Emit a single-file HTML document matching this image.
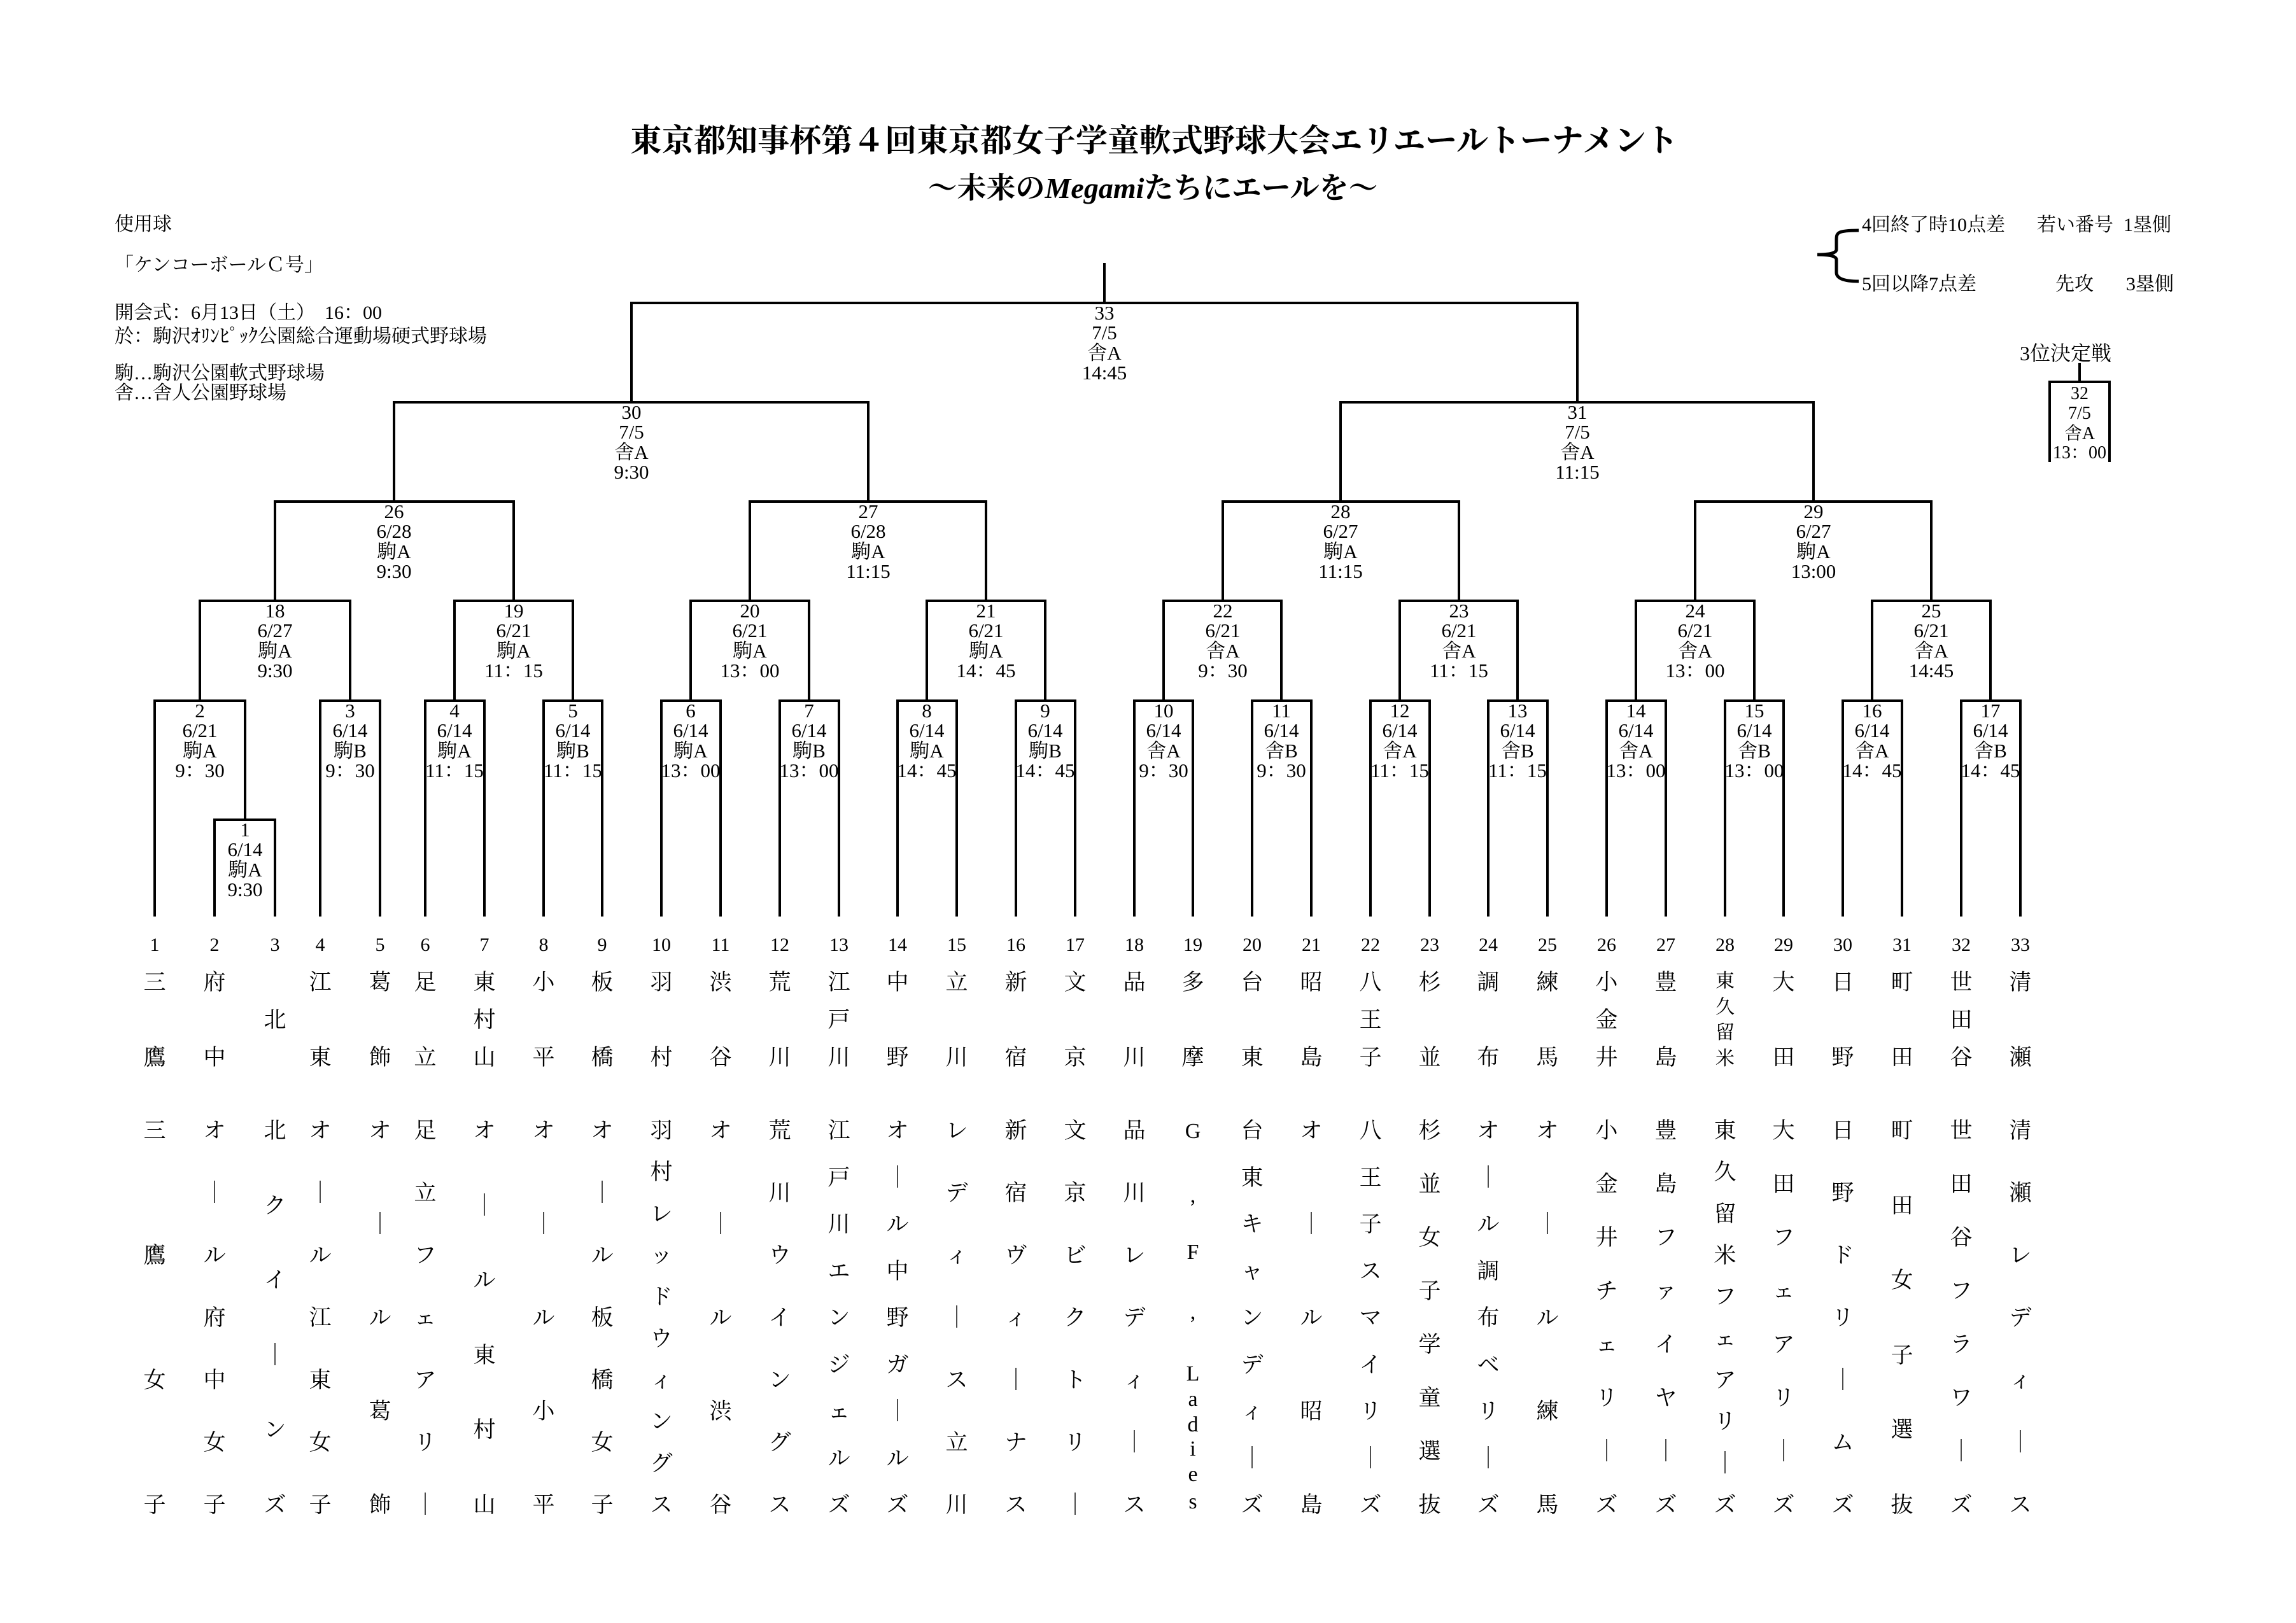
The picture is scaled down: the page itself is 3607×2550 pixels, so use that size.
<!DOCTYPE html>
<html><head><meta charset="utf-8"><style>
body{margin:0;background:#fff}
#w{position:relative;width:3607px;height:2550px;overflow:hidden;background:#fff;font-family:"Liberation Serif","Noto Serif CJK SC",serif;color:#000}
svg{position:absolute;left:0;top:0}
.c{position:absolute;width:60px;display:flex;flex-direction:column;justify-content:space-between;align-items:center;font-size:35px;line-height:36px}
.t{top:1526px;height:154px}
.n{top:1759px;height:624px}
.c span{display:block;height:36px}
.one{justify-content:center}
</style></head><body><div id="w">
<svg width="3607" height="2550" xmlns="http://www.w3.org/2000/svg">
<g fill="none" stroke="#000" stroke-width="4">
<path d="M1735,413V476"/>
<path d="M992,632V476H2478V632"/>
<path d="M619,788V632H1364V788"/><path d="M2106,788V632H2849V788"/>
<path d="M432,944V788H807V944"/><path d="M1178,944V788H1549V944"/><path d="M1921,944V788H2292V944"/><path d="M2663,944V788H3034V944"/>
<path d="M314,1101V944H550V1101"/><path d="M714,1101V944H900V1101"/><path d="M1085,1101V944H1271V1101"/><path d="M1456,1101V944H1642V1101"/>
<path d="M1828,1101V944H2013V1101"/><path d="M2199,1101V944H2384V1101"/><path d="M2570,1101V944H2756V1101"/><path d="M2941,1101V944H3127V1101"/>
<path d="M243,1440V1101H385V1288"/><path d="M337,1440V1288H432V1440"/>
<path d="M503,1440V1101H597V1440"/><path d="M668,1440V1101H761V1440"/><path d="M854,1440V1101H946V1440"/><path d="M1039,1440V1101H1132V1440"/>
<path d="M1225,1440V1101H1318V1440"/><path d="M1410,1440V1101H1503V1440"/><path d="M1596,1440V1101H1689V1440"/><path d="M1782,1440V1101H1874V1440"/>
<path d="M1967,1440V1101H2060V1440"/><path d="M2153,1440V1101H2246V1440"/><path d="M2338,1440V1101H2431V1440"/><path d="M2524,1440V1101H2617V1440"/>
<path d="M2710,1440V1101H2802V1440"/><path d="M2895,1440V1101H2988V1440"/><path d="M3081,1440V1101H3174V1440"/>
<path d="M3267,570V600"/><path d="M3220,726V600H3314V726"/>
<path stroke-width="5" d="M2920,362C2885,362 2885,366 2885,378V392Q2885,400 2855,400Q2885,400 2885,408V428Q2885,442 2920,442"/>
</g>
<g font-family="Liberation Serif, Noto Serif CJK SC, serif" font-size="31" text-anchor="middle">
<text x="1735" y="502">33</text><text x="1735" y="533">7/5</text><text x="1735" y="565">舎A</text><text x="1735" y="596">14:45</text>
<text x="992" y="658">30</text><text x="992" y="689">7/5</text><text x="992" y="721">舎A</text><text x="992" y="752">9:30</text>
<text x="2478" y="658">31</text><text x="2478" y="689">7/5</text><text x="2478" y="721">舎A</text><text x="2478" y="752">11:15</text>
<text x="619" y="814">26</text><text x="619" y="845">6/28</text><text x="619" y="877">駒A</text><text x="619" y="908">9:30</text>
<text x="1364" y="814">27</text><text x="1364" y="845">6/28</text><text x="1364" y="877">駒A</text><text x="1364" y="908">11:15</text>
<text x="2106" y="814">28</text><text x="2106" y="845">6/27</text><text x="2106" y="877">駒A</text><text x="2106" y="908">11:15</text>
<text x="2849" y="814">29</text><text x="2849" y="845">6/27</text><text x="2849" y="877">駒A</text><text x="2849" y="908">13:00</text>
<text x="432" y="970">18</text><text x="432" y="1001">6/27</text><text x="432" y="1033">駒A</text><text x="432" y="1064">9:30</text>
<text x="807" y="970">19</text><text x="807" y="1001">6/21</text><text x="807" y="1033">駒A</text><text x="807" y="1064">11：15</text>
<text x="1178" y="970">20</text><text x="1178" y="1001">6/21</text><text x="1178" y="1033">駒A</text><text x="1178" y="1064">13：00</text>
<text x="1549" y="970">21</text><text x="1549" y="1001">6/21</text><text x="1549" y="1033">駒A</text><text x="1549" y="1064">14：45</text>
<text x="1921" y="970">22</text><text x="1921" y="1001">6/21</text><text x="1921" y="1033">舎A</text><text x="1921" y="1064">9：30</text>
<text x="2292" y="970">23</text><text x="2292" y="1001">6/21</text><text x="2292" y="1033">舎A</text><text x="2292" y="1064">11：15</text>
<text x="2663" y="970">24</text><text x="2663" y="1001">6/21</text><text x="2663" y="1033">舎A</text><text x="2663" y="1064">13：00</text>
<text x="3034" y="970">25</text><text x="3034" y="1001">6/21</text><text x="3034" y="1033">舎A</text><text x="3034" y="1064">14:45</text>
<text x="314" y="1127">2</text><text x="314" y="1158">6/21</text><text x="314" y="1190">駒A</text><text x="314" y="1221">9：30</text>
<text x="385" y="1314">1</text><text x="385" y="1345">6/14</text><text x="385" y="1377">駒A</text><text x="385" y="1408">9:30</text>
<text x="550" y="1127">3</text><text x="550" y="1158">6/14</text><text x="550" y="1190">駒B</text><text x="550" y="1221">9：30</text>
<text x="714" y="1127">4</text><text x="714" y="1158">6/14</text><text x="714" y="1190">駒A</text><text x="714" y="1221">11：15</text>
<text x="900" y="1127">5</text><text x="900" y="1158">6/14</text><text x="900" y="1190">駒B</text><text x="900" y="1221">11：15</text>
<text x="1085" y="1127">6</text><text x="1085" y="1158">6/14</text><text x="1085" y="1190">駒A</text><text x="1085" y="1221">13：00</text>
<text x="1271" y="1127">7</text><text x="1271" y="1158">6/14</text><text x="1271" y="1190">駒B</text><text x="1271" y="1221">13：00</text>
<text x="1456" y="1127">8</text><text x="1456" y="1158">6/14</text><text x="1456" y="1190">駒A</text><text x="1456" y="1221">14：45</text>
<text x="1642" y="1127">9</text><text x="1642" y="1158">6/14</text><text x="1642" y="1190">駒B</text><text x="1642" y="1221">14：45</text>
<text x="1828" y="1127">10</text><text x="1828" y="1158">6/14</text><text x="1828" y="1190">舎A</text><text x="1828" y="1221">9：30</text>
<text x="2013" y="1127">11</text><text x="2013" y="1158">6/14</text><text x="2013" y="1190">舎B</text><text x="2013" y="1221">9：30</text>
<text x="2199" y="1127">12</text><text x="2199" y="1158">6/14</text><text x="2199" y="1190">舎A</text><text x="2199" y="1221">11：15</text>
<text x="2384" y="1127">13</text><text x="2384" y="1158">6/14</text><text x="2384" y="1190">舎B</text><text x="2384" y="1221">11：15</text>
<text x="2570" y="1127">14</text><text x="2570" y="1158">6/14</text><text x="2570" y="1190">舎A</text><text x="2570" y="1221">13：00</text>
<text x="2756" y="1127">15</text><text x="2756" y="1158">6/14</text><text x="2756" y="1190">舎B</text><text x="2756" y="1221">13：00</text>
<text x="2941" y="1127">16</text><text x="2941" y="1158">6/14</text><text x="2941" y="1190">舎A</text><text x="2941" y="1221">14：45</text>
<text x="3127" y="1127">17</text><text x="3127" y="1158">6/14</text><text x="3127" y="1190">舎B</text><text x="3127" y="1221">14：45</text>
<text x="3267" y="627" font-size="28">32</text><text x="3267" y="658" font-size="28">7/5</text><text x="3267" y="690" font-size="28">舎A</text><text x="3267" y="720" font-size="28">13：00</text>
<text x="3245" y="566" font-size="32">3位決定戦</text>
<g font-size="30">
<text x="243" y="1494">1</text><text x="337" y="1494">2</text><text x="432" y="1494">3</text><text x="503" y="1494">4</text><text x="597" y="1494">5</text>
<text x="668" y="1494">6</text><text x="761" y="1494">7</text><text x="854" y="1494">8</text><text x="946" y="1494">9</text><text x="1039" y="1494">10</text>
<text x="1132" y="1494">11</text><text x="1225" y="1494">12</text><text x="1318" y="1494">13</text><text x="1410" y="1494">14</text><text x="1503" y="1494">15</text>
<text x="1596" y="1494">16</text><text x="1689" y="1494">17</text><text x="1782" y="1494">18</text><text x="1874" y="1494">19</text><text x="1967" y="1494">20</text>
<text x="2060" y="1494">21</text><text x="2153" y="1494">22</text><text x="2246" y="1494">23</text><text x="2338" y="1494">24</text><text x="2431" y="1494">25</text>
<text x="2524" y="1494">26</text><text x="2617" y="1494">27</text><text x="2710" y="1494">28</text><text x="2802" y="1494">29</text><text x="2895" y="1494">30</text>
<text x="2988" y="1494">31</text><text x="3081" y="1494">32</text><text x="3174" y="1494">33</text>
</g>
<g font-size="34">
<text x="1874" y="1788">G</text><text x="1874" y="1889">,</text><text x="1874" y="1978">F</text><text x="1874" y="2072">,</text>
<text x="1874" y="2169">L</text><text x="1874" y="2209">a</text><text x="1874" y="2249">d</text><text x="1874" y="2287">i</text><text x="1874" y="2327">e</text><text x="1874" y="2370">s</text>
</g>
<text x="1813" y="238" font-size="50" font-weight="bold">東京都知事杯第４回東京都女子学童軟式野球大会エリエールトーナメント</text>
<text x="1811" y="311" font-size="46" font-weight="bold">～未来の<tspan font-style="italic">Megami</tspan>たちにエールを～</text>
</g>
<g font-family="Liberation Serif, Noto Serif CJK SC, serif" font-size="30">
<text x="180" y="362">使用球</text>
<text x="180" y="426">「ケンコーボールＣ号」</text>
<text x="180" y="501">開会式：6月13日（土）　16：00</text>
<text x="180" y="538">於：駒沢ｵﾘﾝﾋﾟｯｸ公園総合運動場硬式野球場</text>
<text x="180" y="596">駒…駒沢公園軟式野球場</text>
<text x="180" y="627">舎…舎人公園野球場</text>
<text x="2925" y="363">4回終了時10点差</text><text x="3200" y="363">若い番号</text><text x="3336" y="363">1塁側</text>
<text x="2925" y="456">5回以降7点差</text><text x="3229" y="456">先攻</text><text x="3340" y="456">3塁側</text>
</g>
</svg>

<div class="c t" style="left:213px"><span>三</span><span>鷹</span></div>
<div class="c t" style="left:307px"><span>府</span><span>中</span></div>
<div class="c t one" style="left:402px"><span>北</span></div>
<div class="c t" style="left:473px"><span>江</span><span>東</span></div>
<div class="c t" style="left:567px"><span>葛</span><span>飾</span></div>
<div class="c t" style="left:638px"><span>足</span><span>立</span></div>
<div class="c t" style="left:731px"><span>東</span><span>村</span><span>山</span></div>
<div class="c t" style="left:824px"><span>小</span><span>平</span></div>
<div class="c t" style="left:916px"><span>板</span><span>橋</span></div>
<div class="c t" style="left:1009px"><span>羽</span><span>村</span></div>
<div class="c t" style="left:1102px"><span>渋</span><span>谷</span></div>
<div class="c t" style="left:1195px"><span>荒</span><span>川</span></div>
<div class="c t" style="left:1288px"><span>江</span><span>戸</span><span>川</span></div>
<div class="c t" style="left:1380px"><span>中</span><span>野</span></div>
<div class="c t" style="left:1473px"><span>立</span><span>川</span></div>
<div class="c t" style="left:1566px"><span>新</span><span>宿</span></div>
<div class="c t" style="left:1659px"><span>文</span><span>京</span></div>
<div class="c t" style="left:1752px"><span>品</span><span>川</span></div>
<div class="c t" style="left:1844px"><span>多</span><span>摩</span></div>
<div class="c t" style="left:1937px"><span>台</span><span>東</span></div>
<div class="c t" style="left:2030px"><span>昭</span><span>島</span></div>
<div class="c t" style="left:2123px"><span>八</span><span>王</span><span>子</span></div>
<div class="c t" style="left:2216px"><span>杉</span><span>並</span></div>
<div class="c t" style="left:2308px"><span>調</span><span>布</span></div>
<div class="c t" style="left:2401px"><span>練</span><span>馬</span></div>
<div class="c t" style="left:2494px"><span>小</span><span>金</span><span>井</span></div>
<div class="c t" style="left:2587px"><span>豊</span><span>島</span></div>
<div class="c t" style="left:2680px;font-size:30px;line-height:32px"><span style="height:32px">東</span><span style="height:32px">久</span><span style="height:32px">留</span><span style="height:32px">米</span></div>
<div class="c t" style="left:2772px"><span>大</span><span>田</span></div>
<div class="c t" style="left:2865px"><span>日</span><span>野</span></div>
<div class="c t" style="left:2958px"><span>町</span><span>田</span></div>
<div class="c t" style="left:3051px"><span>世</span><span>田</span><span>谷</span></div>
<div class="c t" style="left:3144px"><span>清</span><span>瀬</span></div>

<div class="c n" style="left:213px"><span>三</span><span>鷹</span><span>女</span><span>子</span></div>
<div class="c n" style="left:307px"><span>オ</span><span>｜</span><span>ル</span><span>府</span><span>中</span><span>女</span><span>子</span></div>
<div class="c n" style="left:402px"><span>北</span><span>ク</span><span>イ</span><span>｜</span><span>ン</span><span>ズ</span></div>
<div class="c n" style="left:473px"><span>オ</span><span>｜</span><span>ル</span><span>江</span><span>東</span><span>女</span><span>子</span></div>
<div class="c n" style="left:567px"><span>オ</span><span>｜</span><span>ル</span><span>葛</span><span>飾</span></div>
<div class="c n" style="left:638px"><span>足</span><span>立</span><span>フ</span><span>ェ</span><span>ア</span><span>リ</span><span>｜</span></div>
<div class="c n" style="left:731px"><span>オ</span><span>｜</span><span>ル</span><span>東</span><span>村</span><span>山</span></div>
<div class="c n" style="left:824px"><span>オ</span><span>｜</span><span>ル</span><span>小</span><span>平</span></div>
<div class="c n" style="left:916px"><span>オ</span><span>｜</span><span>ル</span><span>板</span><span>橋</span><span>女</span><span>子</span></div>
<div class="c n" style="left:1009px"><span>羽</span><span>村</span><span>レ</span><span>ッ</span><span>ド</span><span>ウ</span><span>ィ</span><span>ン</span><span>グ</span><span>ス</span></div>
<div class="c n" style="left:1102px"><span>オ</span><span>｜</span><span>ル</span><span>渋</span><span>谷</span></div>
<div class="c n" style="left:1195px"><span>荒</span><span>川</span><span>ウ</span><span>イ</span><span>ン</span><span>グ</span><span>ス</span></div>
<div class="c n" style="left:1288px"><span>江</span><span>戸</span><span>川</span><span>エ</span><span>ン</span><span>ジ</span><span>ェ</span><span>ル</span><span>ズ</span></div>
<div class="c n" style="left:1380px"><span>オ</span><span>｜</span><span>ル</span><span>中</span><span>野</span><span>ガ</span><span>｜</span><span>ル</span><span>ズ</span></div>
<div class="c n" style="left:1473px"><span>レ</span><span>デ</span><span>ィ</span><span>｜</span><span>ス</span><span>立</span><span>川</span></div>
<div class="c n" style="left:1566px"><span>新</span><span>宿</span><span>ヴ</span><span>ィ</span><span>｜</span><span>ナ</span><span>ス</span></div>
<div class="c n" style="left:1659px"><span>文</span><span>京</span><span>ビ</span><span>ク</span><span>ト</span><span>リ</span><span>｜</span></div>
<div class="c n" style="left:1752px"><span>品</span><span>川</span><span>レ</span><span>デ</span><span>ィ</span><span>｜</span><span>ス</span></div>
<div class="c n" style="left:1937px"><span>台</span><span>東</span><span>キ</span><span>ャ</span><span>ン</span><span>デ</span><span>ィ</span><span>｜</span><span>ズ</span></div>
<div class="c n" style="left:2030px"><span>オ</span><span>｜</span><span>ル</span><span>昭</span><span>島</span></div>
<div class="c n" style="left:2123px"><span>八</span><span>王</span><span>子</span><span>ス</span><span>マ</span><span>イ</span><span>リ</span><span>｜</span><span>ズ</span></div>
<div class="c n" style="left:2216px"><span>杉</span><span>並</span><span>女</span><span>子</span><span>学</span><span>童</span><span>選</span><span>抜</span></div>
<div class="c n" style="left:2308px"><span>オ</span><span>｜</span><span>ル</span><span>調</span><span>布</span><span>ベ</span><span>リ</span><span>｜</span><span>ズ</span></div>
<div class="c n" style="left:2401px"><span>オ</span><span>｜</span><span>ル</span><span>練</span><span>馬</span></div>
<div class="c n" style="left:2494px"><span>小</span><span>金</span><span>井</span><span>チ</span><span>ェ</span><span>リ</span><span>｜</span><span>ズ</span></div>
<div class="c n" style="left:2587px"><span>豊</span><span>島</span><span>フ</span><span>ァ</span><span>イ</span><span>ヤ</span><span>｜</span><span>ズ</span></div>
<div class="c n" style="left:2680px"><span>東</span><span>久</span><span>留</span><span>米</span><span>フ</span><span>ェ</span><span>ア</span><span>リ</span><span>｜</span><span>ズ</span></div>
<div class="c n" style="left:2772px"><span>大</span><span>田</span><span>フ</span><span>ェ</span><span>ア</span><span>リ</span><span>｜</span><span>ズ</span></div>
<div class="c n" style="left:2865px"><span>日</span><span>野</span><span>ド</span><span>リ</span><span>｜</span><span>ム</span><span>ズ</span></div>
<div class="c n" style="left:2958px"><span>町</span><span>田</span><span>女</span><span>子</span><span>選</span><span>抜</span></div>
<div class="c n" style="left:3051px"><span>世</span><span>田</span><span>谷</span><span>フ</span><span>ラ</span><span>ワ</span><span>｜</span><span>ズ</span></div>
<div class="c n" style="left:3144px"><span>清</span><span>瀬</span><span>レ</span><span>デ</span><span>ィ</span><span>｜</span><span>ス</span></div>
</div></body></html>
